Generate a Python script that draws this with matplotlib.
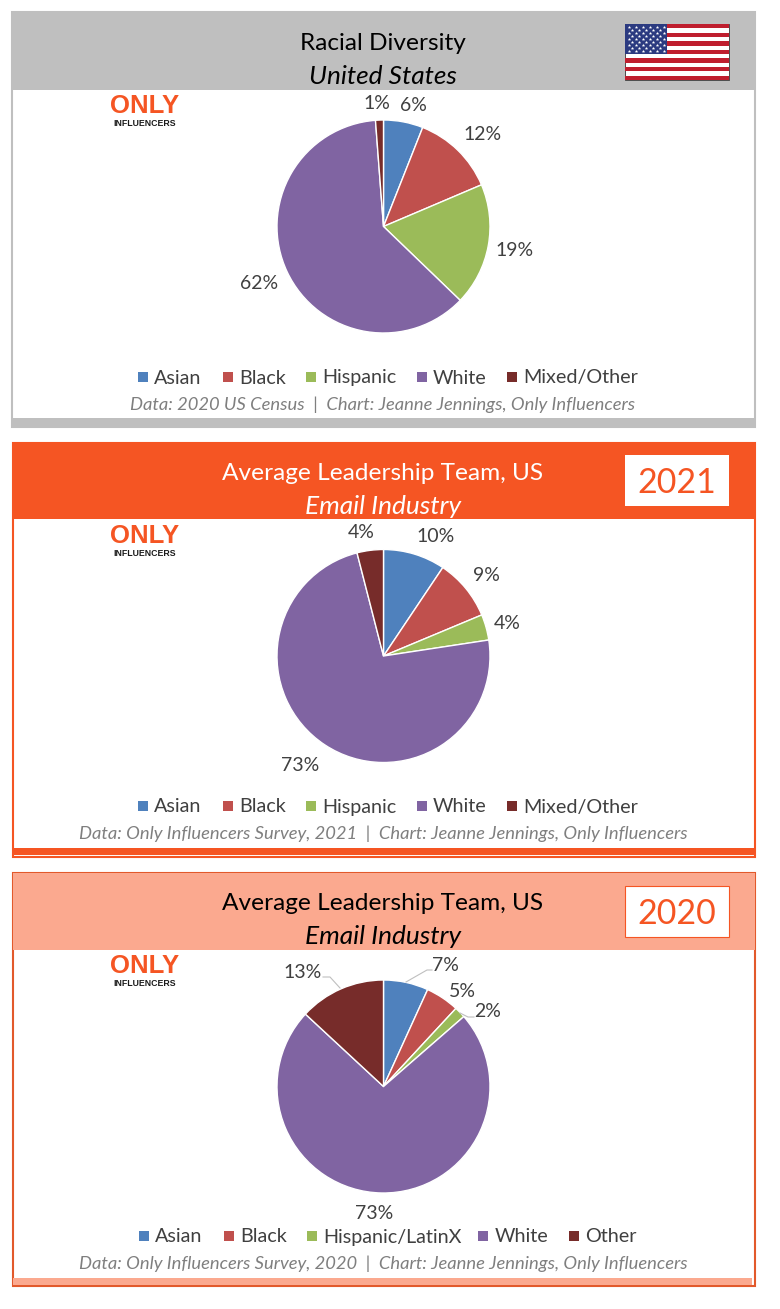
import matplotlib
matplotlib.use("Agg")
import matplotlib.pyplot as plt
from matplotlib.patches import Rectangle

plt.rcParams['font.family'] = ['Lato', 'DejaVu Sans']

# ---------- data ----------
colors = ['#4F81BD', '#C0504D', '#9BBB59', '#8064A2', '#772C2A']
us_values = [6, 12, 19, 62, 1]
us_slices = [6.0, 12.6, 18.6, 61.6, 1.2]     # slice sizes as drawn in the picture
us_labels = ['Asian', 'Black', 'Hispanic', 'White', 'Mixed/Other']
y2021_values = [10, 9, 4, 73, 4]
y2021_slices = [9.4, 9.3, 3.9, 73.4, 4.0]
y2021_labels = ['Asian', 'Black', 'Hispanic', 'White', 'Mixed/Other']
y2020_values = [7, 5, 2, 73, 13]
y2020_slices = [6.8, 5.1, 1.7, 73.3, 13.1]
y2020_labels = ['Asian', 'Black', 'Hispanic/LatinX', 'White', 'Other']

W, H = 780.0, 1309.0
fig = plt.figure(figsize=(7.8, 13.09), dpi=100)
bg = fig.add_axes([0, 0, 1, 1], zorder=0)
bg.set_xlim(0, W); bg.set_ylim(H, 0); bg.axis('off')
top = fig.add_axes([0, 0, 1, 1], zorder=5)
top.set_xlim(0, W); top.set_ylim(H, 0); top.axis('off'); top.patch.set_alpha(0)

ORANGE = '#F55523'
SALMON = '#FBA98F'
GREY = '#BFBFBF'
TXT = '#404040'
NOTE = '#7F7F7F'
FS_LEG = 14.2
FS_VAL = 14.0
FS_NOTE = 13.25
FS_TITLE = 17.6
FS_SUB = 18.9


def rect(x0, y0, x1, y1, fc, ec='none', lw=0, z=1, ax=bg):
    ax.add_patch(Rectangle((x0, y0), x1 - x0, y1 - y0, fc=fc, ec=ec, lw=lw, zorder=z))


def logo(x, y):
    top.text(x, y, 'ONLY', color=ORANGE, fontsize=18.5, fontweight='bold', ha='center', va='center',
             family=['Liberation Sans'])
    top.text(x, y + 17.5, 'INFLUENCERS', color='#1a1a1a', fontsize=6.3, fontweight='bold', ha='center', va='center',
             family=['Liberation Sans'])


def pie(cx, cy, r, values):
    ax = fig.add_axes([(cx - r) / W, 1 - (cy + r) / H, 2 * r / W, 2 * r / H], zorder=2)
    ax.pie(values, colors=colors, startangle=90, counterclock=False, radius=1,
           wedgeprops=dict(edgecolor='white', linewidth=1.0))
    ax.set_xlim(-1, 1); ax.set_ylim(-1, 1); ax.set_aspect('equal'); ax.axis('off')


def legend(names, xs, xt, y):
    for n, c, xa, xb in zip(names, colors, xs, xt):
        rect(xa, y - 5, xa + 10, y + 5, c, z=3, ax=top)
        top.text(xb, y + 1, n, fontsize=FS_LEG, color=TXT, va='center', ha='left')


def values_text(values, positions):
    for v, (x, y) in zip(values, positions):
        top.text(x, y + 1.5, f'{v}%', fontsize=FS_VAL, color=TXT, ha='center', va='center')


def titles(line1, line2, y1, y2, color, cx=383):
    top.text(cx, y1 + 2, line1, fontsize=FS_TITLE, color=color, ha='center', va='center')
    top.text(cx, y2 + 2, line2, fontsize=FS_SUB, color=color, ha='center', va='center', style='italic')


def note(text, y):
    top.text(383, y + 1.5, text, fontsize=FS_NOTE, color=NOTE, style='italic', ha='center', va='center')


# ---------- panel 1 ----------
rect(12, 12, 755, 427, 'white', ec=GREY, lw=1.5)
rect(12, 12, 755, 90, GREY)
rect(12, 418, 755, 427, GREY)
titles('Racial Diversity', 'United States', 42, 75, 'black')
# flag
rect(625, 24, 729, 80, 'white', ec='#333333', lw=0.6, z=3, ax=top)
for i in range(0, 13, 2):
    rect(625, 24 + i * 56 / 13, 729, 24 + (i + 1) * 56 / 13, '#BF1E2E', z=4, ax=top)
rect(625, 24, 667, 54, '#2B3A80', z=5, ax=top)
for row in range(9):
    n = 6 if row % 2 == 0 else 5
    for k in range(n):
        x = 628.5 + k * 7 + (0 if row % 2 == 0 else 3.5)
        top.plot(x, 27 + row * 3, marker='*', ms=2.6, color='white', mew=0, zorder=6)
logo(144.5, 106)
pie(383.5, 226.5, 106.5, us_slices)
values_text(us_values, [(413, 104), (483, 133), (515, 249), (259, 282), (377, 102)])
legend(us_labels, [138, 223, 306, 417, 507], [154, 239, 322, 433, 523], 377)
note('Data: 2020 US Census  |  Chart: Jeanne Jennings, Only Influencers', 403)

# ---------- panel 2 ----------
rect(13, 443, 755, 857, 'white', ec=ORANGE, lw=1.5)
rect(13, 443, 755, 519, ORANGE)
rect(13, 848, 755, 855, ORANGE)
titles('Average Leadership Team, US', 'Email Industry', 472, 504, 'white')
rect(625, 455, 729, 506, 'white', z=3, ax=top)
top.text(677, 483, '2021', fontsize=24.5, color=ORANGE, ha='center', va='center', zorder=6)
logo(144.5, 536)
pie(383.5, 656, 106.5, y2021_slices)
values_text(y2021_values, [(436, 535), (486, 574), (507, 622), (300, 764), (361, 531)])
legend(y2021_labels, [138, 223, 306, 417, 507], [154, 239, 322, 433, 523], 806)
note('Data: Only Influencers Survey, 2021  |  Chart: Jeanne Jennings, Only Influencers', 832)

# ---------- panel 3 ----------
rect(13, 873, 755, 1286, 'white', ec='#E2592B', lw=1.5)
rect(13, 873, 755, 950, SALMON)
rect(13, 1278, 752, 1285, SALMON)
titles('Average Leadership Team, US', 'Email Industry', 902, 935, 'black')
rect(625, 886, 729, 937, 'white', ec=ORANGE, lw=0.8, z=3, ax=top)
top.text(677, 914, '2020', fontsize=24.5, color=ORANGE, ha='center', va='center', zorder=6)
logo(144.5, 966)
pie(383.5, 1086.5, 106.5, y2020_slices)
values_text(y2020_values, [(445, 964), (462, 990), (488, 1010), (374, 1212), (303, 971)])
for xs_, ys_ in [([406, 427, 432], [982, 970, 970]),
                 ([340, 330, 323], [988, 977, 977]),
                 ([460, 468, 474], [1013, 1017, 1017])]:
    top.plot(xs_, ys_, color='#BFBFBF', lw=0.8)
legend(y2020_labels, [139, 224, 307, 478, 569], [155, 240, 323, 495, 585], 1236)
note('Data: Only Influencers Survey, 2020  |  Chart: Jeanne Jennings, Only Influencers', 1262)

fig.savefig('out.png', dpi=100, facecolor='white')
